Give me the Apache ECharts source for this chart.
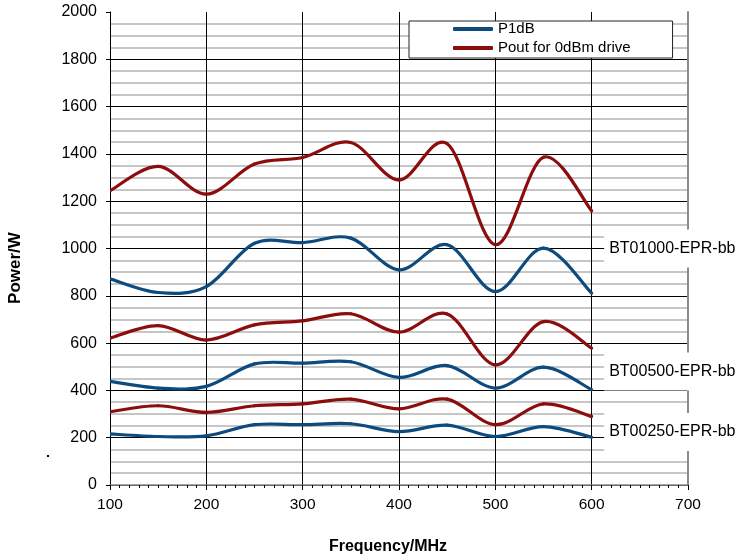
<!DOCTYPE html>
<html>
<head>
<meta charset="utf-8">
<script src="https://cdn.jsdelivr.net/npm/echarts@6/dist/echarts.min.js"></script>
<style>
html,body{margin:0;padding:0;background:#fff;}
#chart{width:738px;height:558px;}
</style>
</head>
<body>
<div id="chart"></div>
<script>
// ---- data ----
const freq = [100, 150, 200, 250, 300, 350, 400, 450, 500, 550, 600];
const p1dB_1000 = [872, 814, 839, 1022, 1025, 1044, 910, 1016, 818, 1002, 811];
const pout_1000 = [1244, 1347, 1230, 1357, 1385, 1448, 1290, 1443, 1016, 1386, 1159];
const p1dB_500 = [438, 410, 417, 512, 515, 521, 455, 505, 410, 498, 403];
const pout_500 = [621, 674, 613, 677, 694, 724, 646, 723, 508, 691, 579];
const p1dB_250 = [216, 205, 208, 255, 255, 259, 226, 253, 205, 247, 202];
const pout_250 = [310, 335, 307, 335, 343, 363, 322, 363, 255, 343, 290];
const legendNames = ['P1dB', 'Pout for 0dBm drive'];
const modelNames = ['BT01000-EPR-bb', 'BT00500-EPR-bb', 'BT00250-EPR-bb'];
const modelLabelY = [1000, 480, 224];
const modelLabelX = 600;
const xTitle = 'Frequency/MHz';
const yTitle = 'Power/W';

const BLUE = '#0d4a7e';
const RED = '#8b0d0d';
const FONT = 'Liberation Sans, Arial, sans-serif';

function pairs(vals) { return freq.map((f, i) => [f, vals[i]]); }

// Smoothed line (Catmull-Rom style, like spreadsheet "smoothed line"),
// drawn from the data through the chart's own coordinate system.
function smoothRender(color) {
  return function (params, api) {
    if (params.dataIndexInside !== 0) return null;
    const n = params.dataInsideLength;
    const pts = [];
    for (let i = 0; i < n; i++) {
      pts.push(api.coord([api.value(0, i), api.value(1, i)]));
    }
    const children = [];
    for (let i = 0; i < n - 1; i++) {
      const p0 = pts[Math.max(i - 1, 0)];
      const p1 = pts[i];
      const p2 = pts[i + 1];
      const p3 = pts[Math.min(i + 2, n - 1)];
      children.push({
        type: 'bezierCurve',
        shape: {
          x1: p1[0], y1: p1[1], x2: p2[0], y2: p2[1],
          cpx1: p1[0] + (p2[0] - p0[0]) / 6, cpy1: p1[1] + (p2[1] - p0[1]) / 6,
          cpx2: p2[0] - (p3[0] - p1[0]) / 6, cpy2: p2[1] - (p3[1] - p1[1]) / 6
        },
        style: { stroke: color, lineWidth: 3.2, fill: null, lineCap: 'round', lineJoin: 'round' },
        silent: true
      });
    }
    return { type: 'group', children: children };
  };
}
function lineSeries(name, vals, color) {
  return {
    type: 'custom', name: name, data: pairs(vals),
    coordinateSystem: 'cartesian2d',
    renderItem: smoothRender(color),
    itemStyle: { color: color },
    encode: { x: 0, y: 1 },
    xAxisIndex: 0, yAxisIndex: 0, z: 3, clip: true
  };
}

const chart = echarts.init(document.getElementById('chart'), null, { renderer: 'canvas' });
const option = {
  animation: false,
  backgroundColor: '#fff',
  textStyle: { fontFamily: FONT },
  grid: { left: 110, right: 50, top: 12, bottom: 73, containLabel: false },
  legend: {
    data: legendNames.map(n => ({ name: n, icon: 'roundRect' })),
    orient: 'vertical',
    left: 409, top: 21,
    itemWidth: 40, itemHeight: 4, itemGap: 3,
    padding: [0, 42, 2, 44],
    backgroundColor: '#fff',
    borderColor: '#222', borderWidth: 1,
    textStyle: { fontFamily: FONT, fontSize: 15, color: '#000', lineHeight: 16 },
    selectedMode: false
  },
  xAxis: [{
    type: 'value', min: 100, max: 700, interval: 100,
    axisLine: { show: true, lineStyle: { color: '#000', width: 1 } },
    axisTick: { show: true, length: 5, lineStyle: { color: '#000' } },
    minorTick: { show: true, splitNumber: 10, length: 3, lineStyle: { color: '#000' } },
    axisLabel: { color: '#000', fontSize: 15.5, fontFamily: FONT, margin: 12, formatter: v => String(v) },
    splitLine: { show: true, showMaxLine: false, lineStyle: { color: '#000', width: 1 } },
    minorSplitLine: { show: false }
  }, {
    type: 'value', position: 'top', min: 100, max: 700, interval: 100,
    axisLine: { show: true, lineStyle: { color: '#8a8a8a', width: 1.5 } },
    axisTick: { show: false }, axisLabel: { show: false }, splitLine: { show: false }
  }],
  yAxis: [{
    type: 'value', min: 0, max: 2000, interval: 200,
    axisLine: { show: true, lineStyle: { color: '#000', width: 1 } },
    axisTick: { show: true, length: 4, lineStyle: { color: '#000' } },
    minorTick: { show: false, splitNumber: 4 },
    axisLabel: { color: '#000', fontSize: 16, fontFamily: FONT, margin: 13, formatter: v => String(v) },
    splitLine: { show: true, showMaxLine: false, lineStyle: { color: '#000', width: 1 } },
    minorSplitLine: { show: true, lineStyle: { color: '#b3b3b3', width: 1.6 } }
  }, {
    type: 'value', position: 'right', min: 0, max: 2000, interval: 200,
    axisLine: { show: true, lineStyle: { color: '#8a8a8a', width: 2 } },
    axisTick: { show: false }, axisLabel: { show: false }, splitLine: { show: false }
  }],
  series: [
    lineSeries(legendNames[0], p1dB_250, BLUE),
    lineSeries(legendNames[1], pout_250, RED),
    lineSeries(legendNames[0], p1dB_500, BLUE),
    lineSeries(legendNames[1], pout_500, RED),
    lineSeries(legendNames[0], p1dB_1000, BLUE),
    lineSeries(legendNames[1], pout_1000, RED)
  ]
};
chart.setOption(option);

// labels placed through the chart's own scales
const graphics = [];
modelNames.forEach((name, i) => {
  const p = chart.convertToPixel({ gridIndex: 0 }, [modelLabelX, modelLabelY[i]]);
  graphics.push({
    type: 'text', x: p[0] + 12.5, y: p[1], z: 100,
    style: {
      text: name, font: '16px ' + FONT, fill: '#000',
      verticalAlign: 'middle', align: 'left',
      backgroundColor: '#fff', padding: [11, 20, 11, 5]
    }
  });
});
graphics.push({
  type: 'text', x: 388, y: 547, z: 100,
  style: { text: xTitle, font: 'bold 16px ' + FONT, fill: '#000', align: 'center', verticalAlign: 'middle' }
});
graphics.push({
  type: 'text', x: 15, y: 268, rotation: Math.PI / 2, z: 100,
  style: { text: yTitle, font: 'bold 17px ' + FONT, fill: '#000', align: 'center', verticalAlign: 'middle' }
});
graphics.push({
  type: 'rect', shape: { x: 47, y: 455, width: 2, height: 2 }, style: { fill: '#000' }, z: 100
});
chart.setOption({ graphic: graphics });
</script>
</body>
</html>
